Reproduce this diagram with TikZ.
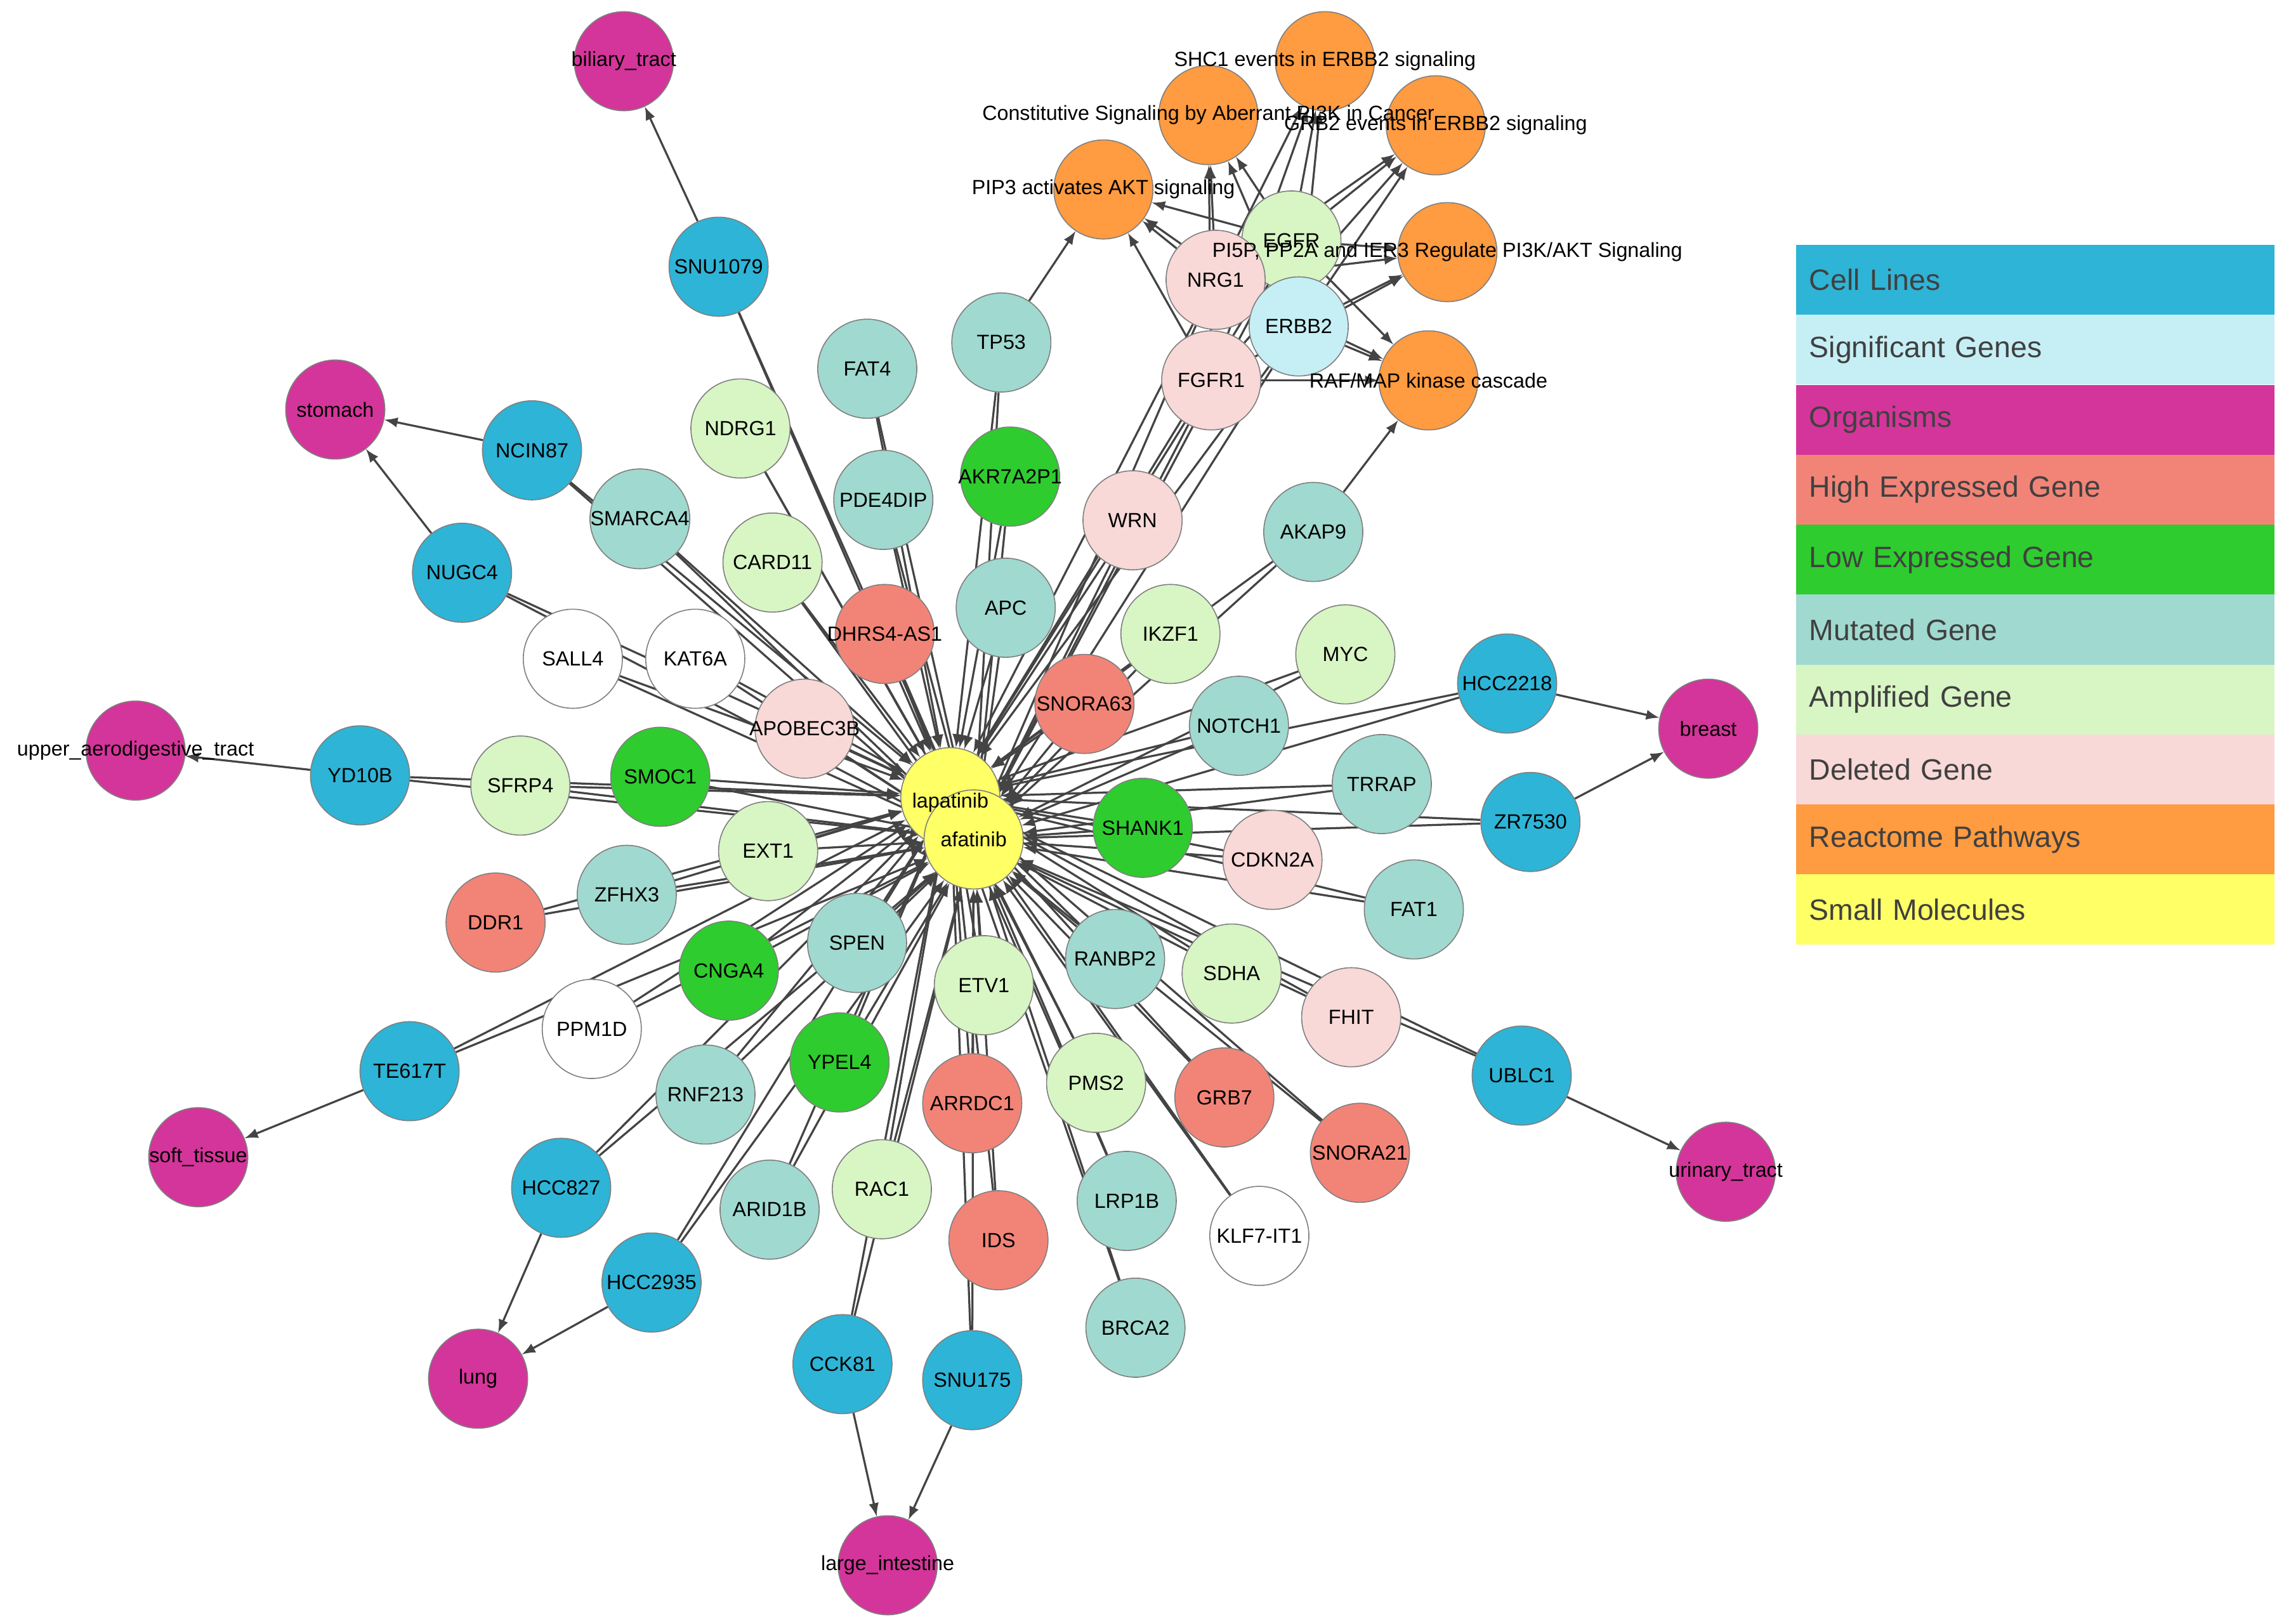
\documentclass[tikz,border=0pt]{standalone}
\usepackage{fontspec}
\setmainfont{Liberation Sans}
\usetikzlibrary{arrows,backgrounds}
\definecolor{cell}{HTML}{2EB4D6}
\definecolor{sig}{HTML}{C6EEF5}
\definecolor{org}{HTML}{D4359A}
\definecolor{high}{HTML}{F28477}
\definecolor{low}{HTML}{2ECC2E}
\definecolor{mut}{HTML}{A0D9CF}
\definecolor{amp}{HTML}{D8F5C4}
\definecolor{del}{HTML}{F8D9D7}
\definecolor{path}{HTML}{FF9B40}
\definecolor{mol}{HTML}{FFFF66}
\definecolor{edge}{HTML}{444444}
\tikzset{gene/.style={circle,draw=gray,minimum size=1.36cm,inner sep=0pt,
           font=\fontsize{8}{9}\selectfont},
         plabel/.style={font=\fontsize{8}{9}\selectfont},
         legend/.style={anchor=west,minimum width=6.56cm,minimum height=0.96cm,
           text width=6.2cm,font=\fontsize{11.5}{13}\selectfont,text=black!75}}
\begin{document}
\begin{tikzpicture}[x=0.02cm,y=-0.02cm,->,>=latex]
    \useasboundingbox (0,0) rectangle (1567,1114);

    % drugs
    \node[gene,fill=mol] (lapatinib) at (652,547) {};
    \node[gene,fill=mol] (afatinib)  at (668,576) {};
    \node[plabel] at ([yshift=-2pt]lapatinib) {lapatinib};
    \node[plabel] at (afatinib) {afatinib};

    % cell lines
    \foreach \n/\x/\y in {SNU1079/493/183, NCIN87/365/309, NUGC4/317/393, YD10B/247/532,
        TE617T/281/735, HCC827/385/815, HCC2935/447/880, CCK81/578/936, SNU175/667/947,
        UBLC1/1044/738, ZR7530/1050/564, HCC2218/1034/469}
        \node[gene,fill=cell] (\n) at (\x,\y) {\n};

    % organisms
    \foreach \n/\t/\x/\y in {bil/biliary\_tract/428/42, sto/stomach/230/281,
        upp/upper\_aerodigestive\_tract/93/515, sof/soft\_tissue/136/794, lun/lung/328/946,
        lar/large\_intestine/609/1074, uri/urinary\_tract/1184/804, bre/breast/1172/500}
    {
        \node[gene,fill=org] (\n) at (\x,\y) {};
        \node[plabel] at (\n) {\t};
    }

    % reactome pathways
    \foreach \n/\x/\y in {shc/909/42, con/829/79, grb/985/86, pip/757/130,
        pi5/993/173, raf/980/261}
        \node[gene,fill=path] (\n) at (\x,\y) {};

    % genes
    \foreach \n/\c/\x/\y in {EGFR/amp/886/165, NRG1/del/834/192, FGFR1/del/831/261,
        ERBB2/sig/891/224, WRN/del/777/357,
        NDRG1/amp/508/294, CARD11/amp/530/386, IKZF1/amp/803/435, MYC/amp/923/449,
        SFRP4/amp/357/539, EXT1/amp/527/584, ETV1/amp/675/676, SDHA/amp/845/668,
        PMS2/amp/752/743, RAC1/amp/605/816, CDKN2A/del/873/590,
        FHIT/del/927/698, FAT4/mut/595/253, TP53/mut/687/235, PDE4DIP/mut/606/343,
        APC/mut/690/417, AKAP9/mut/901/365, SMARCA4/mut/439/356, NOTCH1/mut/850/498,
        TRRAP/mut/948/538, FAT1/mut/970/624, ZFHX3/mut/430/614, SPEN/mut/588/647,
        RANBP2/mut/765/658, RNF213/mut/484/751, ARID1B/mut/528/830, LRP1B/mut/773/824,
        BRCA2/mut/779/911, SMOC1/low/453/533, SHANK1/low/784/568,
        CNGA4/low/500/666, YPEL4/low/576/729,
        SNORA63/high/744/483, DDR1/high/340/633, ARRDC1/high/667/757, IDS/high/685/851,
        GRB7/high/840/753, SNORA21/high/933/791, SALL4/white/393/452, KAT6A/white/477/452,
        PPM1D/white/406/706, KLF7-IT1/white/864/848}
        \node[gene,fill=\c] (\n) at (\x,\y) {\n};

    % genes with long names
    \foreach \n/\c/\x/\y in {APOBEC3B/del/552/500, AKR7A2P1/low/693/327,
        DHRS4-AS1/high/607/435}
    {
        \node[gene,fill=\c] (\n) at (\x,\y) {};
        \node[plabel] at (\n) {\n};
    }

    % pathway labels
    \node[plabel] at (shc) {SHC1 events in ERBB2 signaling};
    \node[plabel] at (con) {Constitutive Signaling by Aberrant PI3K in Cancer};
    \node[plabel] at (grb) {GRB2 events in ERBB2 signaling};
    \node[plabel] at (pip) {PIP3 activates AKT signaling};
    \node[plabel] at (pi5) {PI5P, PP2A and IER3 Regulate PI3K/AKT Signaling};
    \node[plabel] at (raf) {RAF/MAP kinase cascade};

    \begin{pgfonlayer}{background}
    \begin{scope}[draw=edge,line width=0.8pt]
        \foreach \n in {SNU1079, NCIN87, NUGC4, YD10B, TE617T, HCC827, HCC2935, CCK81,
            SNU175, UBLC1, ZR7530, HCC2218, EGFR, NRG1, FGFR1, ERBB2, WRN, NDRG1, CARD11,
            IKZF1, MYC, SFRP4, EXT1, ETV1, SDHA, PMS2, RAC1, APOBEC3B, CDKN2A, FHIT, FAT4,
            TP53, PDE4DIP, APC, AKAP9, SMARCA4, NOTCH1, TRRAP, FAT1, ZFHX3, SPEN, RANBP2,
            RNF213, ARID1B, LRP1B, BRCA2, AKR7A2P1, SMOC1, SHANK1, CNGA4, YPEL4,
            DHRS4-AS1, SNORA63, DDR1, ARRDC1, IDS, GRB7, SNORA21, SALL4, KAT6A, PPM1D,
            KLF7-IT1}
        {
            \draw (\n) -- (lapatinib);
            \draw (\n) -- (afatinib);
        }
        \foreach \a/\b in {SNU1079/bil, NCIN87/sto, NUGC4/sto, YD10B/upp, TE617T/sof,
            HCC827/lun, HCC2935/lun, CCK81/lar, SNU175/lar, UBLC1/uri, ZR7530/bre,
            HCC2218/bre, TP53/pip, AKAP9/raf}
            \draw (\a) -- (\b);
        \foreach \a in {EGFR, ERBB2, NRG1, FGFR1}
            \foreach \b in {shc, con, grb, pip, pi5, raf}
                \draw (\a) -- (\b);
    \end{scope}
    \end{pgfonlayer}

    % legend
    \foreach \t/\c [count=\i from 0] in {Cell Lines/cell, Significant Genes/sig,
        Organisms/org, High Expressed Gene/high, Low Expressed Gene/low,
        Mutated Gene/mut, Amplified Gene/amp, Deleted Gene/del,
        Reactome Pathways/path, Small Molecules/mol}
        \node[legend,fill=\c] (leg\i) at (1232,192+48*\i) {\t};
\end{tikzpicture}
\end{document}
